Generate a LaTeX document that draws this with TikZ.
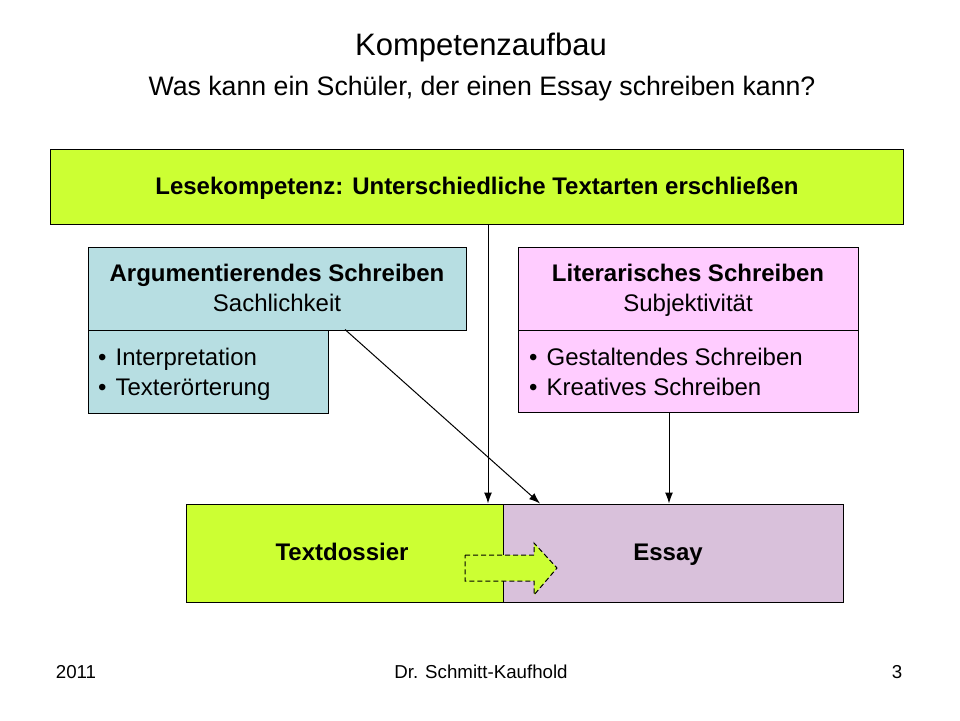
\documentclass[tikz,border=0pt]{standalone}
\usepackage{fontspec}
\setmainfont{Liberation Sans}
\usetikzlibrary{arrows.meta}
\definecolor{lgreen}{RGB}{204,255,51}
\definecolor{lteal}{RGB}{183,222,226}
\definecolor{lpink}{RGB}{255,204,255}
\definecolor{lpurple}{RGB}{217,193,219}
\tikzset{
  box/.style={draw=black, line width=1pt, inner sep=0pt, align=center},
  arr/.style={line width=1pt, -{Latex[length=11pt,width=8pt]}},
  fbig/.style={font=\fontsize{24}{30}\selectfont},
  fbold/.style={font=\fontsize{24}{30}\selectfont\bfseries},
  lbl/.style={anchor=base, inner sep=0pt},
}
\begin{document}
\begin{tikzpicture}[x=1pt,y=-1pt]
\useasboundingbox (0,0) rectangle (960,720);
% titles
\node[font=\fontsize{31}{36}\selectfont] (title) at (481,47) {Kompetenzaufbau};
\node[font=\fontsize{26.7}{32}\selectfont] (subtitle) at (482,89) {Was kann ein Schüler, der einen Essay schreiben kann?};
% top box
\node[box, fill=lgreen, minimum width=853pt, minimum height=75pt] (top) at (476.5,186.5) {};
\node[fbold, lbl] (topt) at (477,194.6) {Lesekompetenz: Unterschiedliche Textarten erschließen};
% left boxes
\node[box, fill=lteal, minimum width=240pt, minimum height=83pt] (lb) at (208,371.5) {};
\node[box, fill=lteal, minimum width=378pt, minimum height=83pt] (lt) at (277,288.5) {};
\node[fbold, lbl] (lt1) at (277,281.6) {Argumentierendes Schreiben};
\node[fbig, lbl] (lt2) at (277,311.6) {Sachlichkeit};
\node[fbig, align=left, inner sep=0pt, anchor=west] (lbt) at (98,374) {•\hspace{9pt}Interpretation\\•\hspace{9pt}Texterörterung};
% right boxes
\node[box, fill=lpink, minimum width=340pt, minimum height=83pt] (rt) at (688,288.5) {};
\node[fbold, lbl] (rt1) at (688,281.6) {Literarisches Schreiben};
\node[fbig, lbl] (rt2) at (688,311.6) {Subjektivität};
\node[box, fill=lpink, minimum width=340pt, minimum height=82pt] (rb) at (688,371) {};
\node[fbig, align=left, inner sep=0pt, anchor=west] (rbt) at (529,372) {•\hspace{9pt}Gestaltendes Schreiben\\•\hspace{9pt}Kreatives Schreiben};
% bottom boxes
\node[box, fill=lgreen, minimum width=317pt, minimum height=98pt] (dossier) at (344.5,553) {};
\node[box, fill=lpurple, minimum width=340pt, minimum height=98pt] (essay) at (673,553) {};
\node[fbold, lbl] (dossiert) at (342,560.6) {Textdossier};
\node[fbold, lbl] (essayt) at (668,560.6) {Essay};
% dashed arrow
\draw[fill=lgreen, dash pattern=on 5pt off 3pt, line width=1pt]
  (465,555) -- (534,555) -- (534,543) -- (557,568) -- (534,595) -- (534,581) -- (465,581) -- cycle;
% connectors
\coordinate (a1) at (488,0);
\coordinate (d1) at (345,0);
\coordinate (d2) at (540,0);
\coordinate (r1) at (669,0);
\draw[arr] (top.south -| a1) -- (dossier.north -| a1);
\draw[arr] (lb.north -| d1) -- (essay.north -| d2);
\draw[arr] (rb.south -| r1) -- (essay.north -| r1);
% footer
\node[font=\fontsize{18.7}{22}\selectfont] (year) at (76,672) {2011};
\node[font=\fontsize{18.7}{22}\selectfont] (author) at (481,672) {Dr. Schmitt-Kaufhold};
\node[font=\fontsize{18.7}{22}\selectfont] (page) at (897,672) {3};
\end{tikzpicture}
\end{document}
